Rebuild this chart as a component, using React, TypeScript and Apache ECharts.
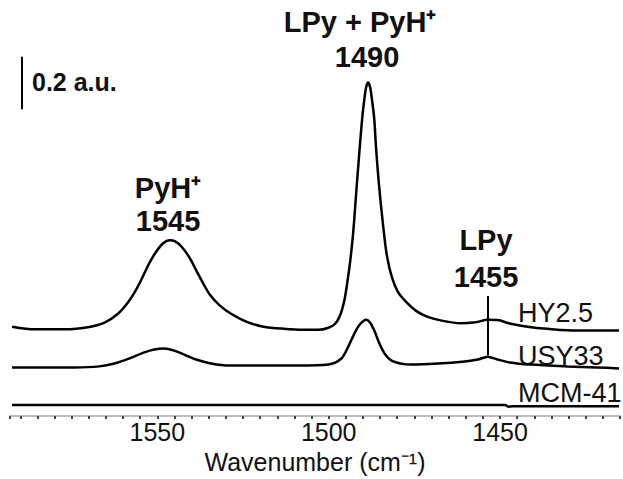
import React, { useEffect, useRef } from "react";
import * as echarts from "echarts";

// Wavenumber (cm-1) and absorbance (a.u., offset stacked)
const hyWavenumber = [
  1592.4, 1585.7, 1577.0, 1569.8, 1565.4, 1561.6, 1558.7, 1556.4, 1554.4, 1552.4,
  1550.3, 1548.3, 1546.5, 1544.8, 1542.8, 1540.7, 1538.7, 1536.7, 1534.6, 1532.0,
  1528.5, 1523.9, 1519.0, 1513.2, 1507.3, 1503.0, 1500.1, 1498.1, 1496.6, 1495.4,
  1494.6, 1493.7, 1492.8, 1492.0, 1491.1, 1490.2, 1489.6, 1489.1, 1488.5, 1487.9,
  1487.3, 1486.7, 1486.2, 1485.3, 1484.1, 1483.0, 1481.5, 1479.8, 1477.7, 1474.5,
  1471.1, 1466.7, 1461.5, 1457.1, 1453.6, 1450.7, 1447.2, 1442.0, 1436.2, 1427.5,
  1420.2, 1415.3,
];
const hyAbsorbance = [
  0.340, 0.330, 0.330, 0.339, 0.355, 0.388, 0.430, 0.476, 0.526, 0.580,
  0.626, 0.657, 0.668, 0.664, 0.642, 0.604, 0.555, 0.506, 0.460, 0.423,
  0.389, 0.358, 0.340, 0.332, 0.328, 0.328, 0.336, 0.351, 0.385, 0.442,
  0.506, 0.592, 0.706, 0.845, 0.996, 1.136, 1.204, 1.249, 1.268, 1.249,
  1.196, 1.128, 1.023, 0.875, 0.721, 0.608, 0.525, 0.472, 0.438, 0.400,
  0.377, 0.362, 0.353, 0.357, 0.366, 0.365, 0.352, 0.340, 0.332, 0.325,
  0.325, 0.325,
];

const usyWavenumber = [
  1592.4, 1584.3, 1574.1, 1566.9, 1562.5, 1558.2, 1553.8, 1550.9, 1548.0, 1545.1,
  1542.2, 1538.7, 1534.3, 1529.1, 1519.5, 1508.8, 1500.1, 1496.3, 1494.3, 1492.8,
  1491.4, 1490.2, 1489.1, 1487.9, 1486.7, 1485.3, 1483.5, 1481.2, 1476.0, 1468.1,
  1460.3, 1456.5, 1453.6, 1450.7, 1447.2, 1441.1, 1430.4, 1421.7, 1415.3,
];
const usyAbsorbance = [
  0.185, 0.185, 0.185, 0.189, 0.200, 0.219, 0.242, 0.253, 0.257, 0.249,
  0.234, 0.215, 0.200, 0.192, 0.192, 0.192, 0.196, 0.219, 0.264, 0.306,
  0.340, 0.358, 0.366, 0.355, 0.325, 0.279, 0.234, 0.208, 0.196, 0.200,
  0.208, 0.215, 0.226, 0.215, 0.204, 0.196, 0.189, 0.185, 0.181,
];

const mcmWavenumber = [1592.4, 1560, 1530, 1500, 1470, 1455, 1448.5, 1447.5, 1446.5, 1445, 1430, 1415.3];
const mcmAbsorbance = [0.042, 0.042, 0.042, 0.042, 0.042, 0.042, 0.042, 0.036, 0.037, 0.037, 0.037, 0.037];

const xTickLabels = [1450, 1500, 1550];
const seriesNames = ["HY2.5", "USY33", "MCM-41"];

// 1455 marker line and 0.2 a.u. scale bar (data coordinates)
const lpyMarker = { wavenumber: 1453.6, from: 0.457, to: 0.23 };
const scaleBar = { wavenumber: 1589.5, from: 1.366, to: 1.166, label: "0.2 a.u." };

const FONT = "Liberation Sans, Arial, sans-serif";

const zip = (xs: number[], ys: number[]) => xs.map((x, i) => [x, ys[i]]);

export default function App() {
  const ref = useRef<HTMLDivElement>(null);

  useEffect(() => {
    if (!ref.current) return;
    const chart = echarts.init(ref.current, undefined, { renderer: "svg" });
    const lineStyle = { color: "#000", width: 2.5 };
    const mk = (w: number, a: number, b: number) => [
      { coord: [w, a], symbol: "none" },
      { coord: [w, b], symbol: "none" },
    ];
    chart.setOption({
      animation: false,
      backgroundColor: "#fff",
      grid: { left: 10, right: 0, top: 21.5, bottom: 60 },
      xAxis: {
        type: "value",
        inverse: true,
        min: 1415,
        max: 1593,
        interval: 5,
        name: "Wavenumber (cm\u207B\u00B9)",
        nameLocation: "middle",
        nameGap: 27,
        nameTextStyle: { fontFamily: FONT, fontSize: 25, color: "#111" },
        axisLine: { show: true, lineStyle: { color: "#bdbdbd", width: 2 } },
        axisTick: { show: true, length: 3, lineStyle: { color: "#444", width: 2 } },
        splitLine: { show: false },
        axisLabel: {
          margin: 3,
          fontFamily: FONT,
          fontSize: 25,
          color: "#111",
          showMinLabel: true,
          showMaxLabel: true,
          formatter: (v: number) => (xTickLabels.includes(v) ? String(v) : ""),
        },
      },
      yAxis: { type: "value", min: 0, max: 1.5, show: false },
      series: [
        {
          name: seriesNames[0],
          type: "line",
          data: zip(hyWavenumber, hyAbsorbance),
          showSymbol: false,
          smooth: 0.3,
          lineStyle,
          markLine: {
            silent: true,
            symbol: "none",
            label: { show: false },
            lineStyle: { color: "#000", width: 2, type: "solid" },
            data: [mk(scaleBar.wavenumber, scaleBar.from, scaleBar.to)],
          },
        },
        {
          name: seriesNames[1],
          type: "line",
          data: zip(usyWavenumber, usyAbsorbance),
          showSymbol: false,
          smooth: 0.3,
          lineStyle,
          markLine: {
            silent: true,
            symbol: "none",
            label: { show: false },
            lineStyle: { color: "#000", width: 2, type: "solid" },
            data: [mk(lpyMarker.wavenumber, lpyMarker.from, lpyMarker.to)],
          },
        },
        {
          name: seriesNames[2],
          type: "line",
          data: zip(mcmWavenumber, mcmAbsorbance),
          showSymbol: false,
          smooth: 0.2,
          lineStyle,
        },
      ],
      graphic: [
        { type: "text", x: 168, y: 188, style: { text: "PyH\u207A", font: `bold 29px ${FONT}`, fill: "#111", textAlign: "center", textVerticalAlign: "middle" } },
        { type: "text", x: 168, y: 221, style: { text: "1545", font: `bold 29px ${FONT}`, fill: "#111", textAlign: "center", textVerticalAlign: "middle" } },
        { type: "text", x: 360, y: 22, style: { text: "LPy + PyH\u207A", font: `bold 29px ${FONT}`, fill: "#111", textAlign: "center", textVerticalAlign: "middle" } },
        { type: "text", x: 367, y: 57, style: { text: "1490", font: `bold 29px ${FONT}`, fill: "#111", textAlign: "center", textVerticalAlign: "middle" } },
        { type: "text", x: 486, y: 240, style: { text: "LPy", font: `bold 29px ${FONT}`, fill: "#111", textAlign: "center", textVerticalAlign: "middle" } },
        { type: "text", x: 486, y: 277, style: { text: "1455", font: `bold 29px ${FONT}`, fill: "#111", textAlign: "center", textVerticalAlign: "middle" } },
        { type: "text", x: 32, y: 82, style: { text: scaleBar.label, font: `bold 25px ${FONT}`, fill: "#111", textAlign: "left", textVerticalAlign: "middle" } },
        { type: "text", x: 518, y: 313, style: { text: seriesNames[0], font: `27px ${FONT}`, fill: "#111", textAlign: "left", textVerticalAlign: "middle" } },
        { type: "text", x: 518, y: 356, style: { text: seriesNames[1], font: `27px ${FONT}`, fill: "#111", textAlign: "left", textVerticalAlign: "middle" } },
        { type: "text", x: 518, y: 393, style: { text: seriesNames[2], font: `27px ${FONT}`, fill: "#111", textAlign: "left", textVerticalAlign: "middle" } },
      ],
    });
    return () => chart.dispose();
  }, []);

  return (
    <div
      ref={ref}
      style={{ position: "fixed", left: 0, top: 0, width: 623, height: 479, background: "#fff" }}
    />
  );
}
